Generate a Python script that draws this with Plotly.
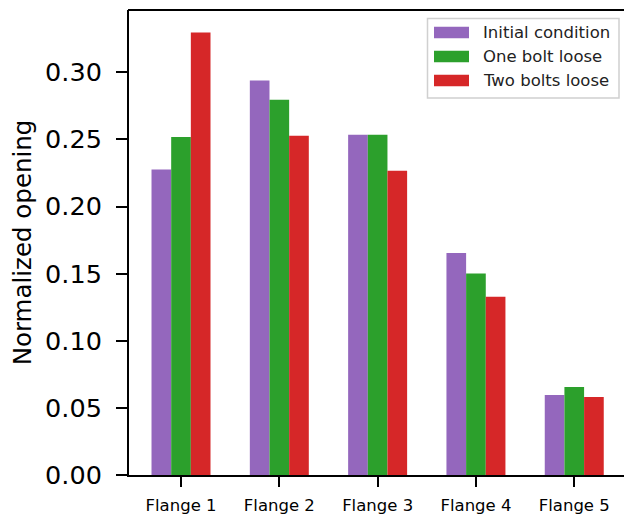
import plotly.graph_objects as go

# Normalized flange opening for each loosening scenario
flanges = ["Flange 1", "Flange 2", "Flange 3", "Flange 4", "Flange 5"]
initial_condition = [0.2275, 0.2939, 0.2534, 0.1654, 0.0596]
one_bolt_loose = [0.2517, 0.2796, 0.2534, 0.1501, 0.0655]
two_bolts_loose = [0.3296, 0.2527, 0.2266, 0.1328, 0.0581]

series_names = ["Initial condition", "One bolt loose", "Two bolts loose"]
series_values = [initial_condition, one_bolt_loose, two_bolts_loose]
colors = ["#9467bd", "#2ca02c", "#d62728"]

y_ticks = [0.00, 0.05, 0.10, 0.15, 0.20, 0.25, 0.30]

W, H = 624, 515
L, R, T, B = 129, 0, 10, 37
FONT = "DejaVu Sans"

fig = go.Figure()
for name, vals, col in zip(series_names, series_values, colors):
    fig.add_trace(go.Bar(x=flanges, y=vals, name=name, marker_color=col,
                         marker_line_width=0, showlegend=False))

# pixel -> paper helpers for the legend box
pw, ph = W - L - R, H - T - B
def px(x):
    return (x - L) / pw
def py(y):
    return (H - B - y) / ph

shapes = [dict(type="rect", xref="paper", yref="paper",
               x0=px(427.5), x1=px(619), y0=py(98.5), y1=py(18.5),
               line=dict(color="#d0d0d0", width=1.5), fillcolor="rgba(255,255,255,0.8)",
               layer="above")]
annotations = []
ycent = [32.7, 56.8, 81.0]
for name, col, yc in zip(series_names, colors, ycent):
    shapes.append(dict(type="rect", xref="paper", yref="paper",
                       x0=px(434), x1=px(469), y0=py(yc + 5.8), y1=py(yc - 5.8),
                       line=dict(width=0), fillcolor=col, layer="above"))
    annotations.append(dict(xref="paper", yref="paper", x=px(481), y=py(yc),
                            xanchor="left", yanchor="middle", showarrow=False,
                            text=name, font=dict(family=FONT, size=16.5, color="#222")))

fig.update_layout(
    width=W, height=H,
    margin=dict(l=L, r=R, t=T, b=B),
    paper_bgcolor="white", plot_bgcolor="white",
    barmode="group", bargap=0.4, bargroupgap=0,
    shapes=shapes, annotations=annotations,
    font=dict(family=FONT, color="black"),
)
fig.update_xaxes(
    range=[-0.529, 4.506], showline=True, linecolor="black", linewidth=2,
    mirror=False, ticks="outside", ticklen=10, tickwidth=2, tickcolor="black",
    tickfont=dict(size=16.5, family=FONT), showgrid=False, zeroline=False,
    ticklabelstandoff=4,
)
fig.update_yaxes(
    range=[0, 0.3464], tickvals=y_ticks, tickformat=".2f",
    showline=True, linecolor="black", linewidth=2, mirror=False,
    ticks="outside", ticklen=11, tickwidth=2, tickcolor="black",
    tickfont=dict(size=25.5, family=FONT), showgrid=False, zeroline=False,
    ticklabelstandoff=9,
    title=dict(text="Normalized opening", font=dict(size=24.5, family=FONT), standoff=7),
)
# top spine
fig.add_shape(type="line", xref="paper", yref="paper", x0=-0.002, x1=1, y0=1, y1=1,
              line=dict(color="black", width=2))

fig.write_html("out.html")
